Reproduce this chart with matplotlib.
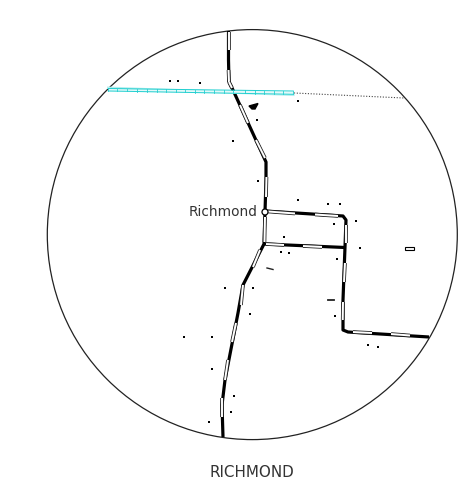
import matplotlib
matplotlib.use('Agg')
import matplotlib.pyplot as plt
from matplotlib.patches import Circle

# everything, in image pixels
circle_centre = (252.3, 234.6)
circle_radius = 205

main_x = [228.5, 228.5, 229, 233, 266, 266, 265, 264, 243, 238, 225, 222, 223]
main_y = [31, 60, 82, 90, 162, 180, 212, 244, 285, 313, 380, 405, 437]
east_x = [265, 343, 346, 345, 343, 343, 348, 429]
east_y = [211, 216, 220, 247, 300, 330, 332, 337]
link_x = [264, 345]
link_y = [244, 247.5]

# white slots along the track
open_x = [(228.5, 228.5), (228.5, 229), (229, 232), (240, 248), (256, 265), (266.5, 266), (265, 264.5), (260, 253),
          (243, 241), (236, 232), (228, 225), (222, 222), (268, 295), (315, 338), (266, 284), (303, 322),
          (346, 346), (345, 344), (343, 342.7), (353, 372), (391, 410)]
open_y = [(32, 50), (70, 82), (82, 88), (105, 123), (140, 158), (177, 197), (217, 242), (250, 267),
          (285, 305), (323, 342), (360, 380), (398, 417), (211.5, 213.5), (214.5, 216), (244, 245), (246, 247),
          (225, 243), (263, 282), (302, 320), (332, 333), (334, 335.5)]

bridge_x = [108.3, 293.3]
bridge_top = [88.5, 91]
bridge_bottom = [91, 94.3]
wash_y = [87.8, 94.8]
bar_x = [108.3, 117.3, 127.3, 137.3, 146.7, 156.7, 166, 175.7, 185.3, 194.7, 204.3, 214, 223.7, 233.3,
         245.3, 255, 264.3, 274, 283.3, 293.3]
dotted_x = [294, 404]
dotted_y = [93, 98]

dots_x = [170, 178, 200, 298, 257, 233, 258, 298, 328, 340, 334, 356, 284, 281, 289, 360, 337, 225, 253, 250,
          184, 212, 212, 335, 368, 378, 234, 231, 209]
dots_y = [81, 81, 83, 101, 120, 141, 181, 200, 204, 204, 224, 221, 237, 252, 253, 248, 259, 288, 288, 314,
          337, 337, 369, 316, 345, 347, 396, 412, 422]

place_label = 'Richmond'
map_title = 'RICHMOND'

fig = plt.figure(figsize=(4.62, 4.86), dpi=100)
ax = fig.add_axes([0, 0, 1, 1])
ax.set_xlim(0, 462)
ax.set_ylim(486, 0)
ax.axis('off')

ax.add_patch(Circle(circle_centre, circle_radius, fill=False, ec='#222222', lw=0.9))

# track, then outlined slots on top
for xs, ys in [(main_x, main_y), (east_x, east_y), (link_x, link_y)]:
    ax.plot(xs, ys, color='black', lw=2.3, solid_joinstyle='round', solid_capstyle='butt')
for xs, ys in zip(open_x, open_y):
    ax.plot(xs, ys, color='#222222', lw=2.6, solid_capstyle='butt', zorder=3)
    ax.plot(xs, ys, color='white', lw=1.4, solid_capstyle='butt', zorder=3)

# canal bridge
ax.plot(bridge_x, wash_y, color='#b4eeee', lw=1.8, zorder=4)
ax.fill_between(bridge_x, bridge_top, bridge_bottom, color='#e4f9f9', lw=0, zorder=4)
ax.plot(bridge_x, bridge_top, color='#22cfd0', lw=0.7, zorder=4)
ax.plot(bridge_x, bridge_bottom, color='#22cfd0', lw=0.7, zorder=4)
for x in bar_x:
    frac = (x - bridge_x[0]) / (bridge_x[1] - bridge_x[0])
    ax.plot([x, x], [88.5 + 2.5 * frac, 91 + 3.3 * frac], color='#22cfd0', lw=0.6, zorder=4)
ax.plot(dotted_x, dotted_y, color='#444444', lw=0.8, ls=(0, (1, 1.5)))

ax.scatter(dots_x, dots_y, s=3, color='black', marker='s', linewidths=0)
ax.add_patch(plt.Polygon([(249, 106), (258, 103.5), (255, 109), (252, 109)], color='black'))
ax.add_patch(plt.Rectangle((405, 246.5), 9, 3, fc='white', ec='black', lw=0.8))
ax.plot([267, 273], [268, 269.5], color='#222222', lw=1)
ax.plot([328, 334], [300, 300], color='#222222', lw=1.3)

ax.add_patch(Circle((265, 212), 3, fc='white', ec='black', lw=0.9, zorder=5))
ax.text(257, 212, place_label, ha='right', va='center', fontsize=9.8, color='#333333', zorder=6)
ax.text(252, 472, map_title, ha='center', va='center', fontsize=10.9, color='#333333')

fig.savefig('out.png', dpi=100)
